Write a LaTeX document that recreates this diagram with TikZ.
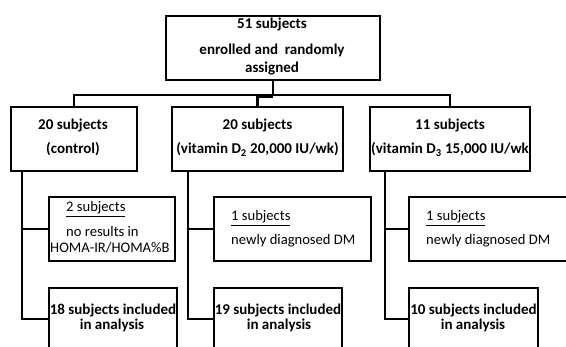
\documentclass[tikz,border=0pt]{standalone}
\usepackage{fontspec}
\setmainfont{Carlito}
\begin{document}
\begin{tikzpicture}[x=1pt,y=-1pt,
  box/.style={draw, rectangle, inner sep=0pt, line width=2.1pt},
  bt/.style={font=\fontsize{15}{15}\selectfont\bfseries, inner sep=0pt, anchor=base},
  rt/.style={font=\fontsize{14.6}{14.6}\selectfont, inner sep=0pt, anchor=base west},
  conn/.style={draw, line width=2.1pt}]
\useasboundingbox (0,0) rectangle (566,347);
\clip (0,0) rectangle (566,347);
% boxes
\node[box, minimum width=214pt, minimum height=64pt] (top) at (273,48) {};
\node[box, minimum width=126pt, minimum height=64pt] (L) at (74,139) {};
\node[box, minimum width=171pt, minimum height=64pt] (M) at (257.5,139) {};
\node[box, minimum width=160pt, minimum height=64pt] (R) at (450,139) {};
\node[box, minimum width=126pt, minimum height=64pt] (L2) at (112,229) {};
\node[box, minimum width=157pt, minimum height=64pt] (M2) at (292.5,229) {};
\node[box, minimum width=191pt, minimum height=64pt] (R2) at (504.5,229) {};
\node[box, minimum width=128pt, minimum height=62pt] (L3) at (113,319) {};
\node[box, minimum width=128pt, minimum height=62pt] (M3) at (278,319) {};
\node[box, minimum width=129pt, minimum height=62pt] (R3) at (473.5,319) {};
% connectors
\coordinate (j) at (273,95);
\draw[conn] (top.south) -- (j);
\draw[conn] (L.north) |- (j) -| (R.north);
\draw[conn] (M.north) -- (M.north |- j);
\draw[conn] ([yshift=-2pt]M.north |- j) -- ([yshift=-2pt]j);
\coordinate (ls) at ([xshift=12pt]L.south west);
\coordinate (ms) at ([xshift=17pt]M.south west);
\coordinate (rs) at ([xshift=16pt]R.south west);
\draw[conn] (ls) |- (L2.west);
\draw[conn] (ls) |- (L3.west);
\draw[conn] (ms) |- (M2.west);
\draw[conn] (ms) |- (M3.west);
\draw[conn] (rs) |- (R2.west);
\draw[conn] (rs) |- (R3.west);
% texts
\node[bt] (t1) at (272,29) {51 subjects};
\node[bt] (t2) at (272,55) {enrolled and\ \ randomly};
\node[bt] (t3) at (272,73) {assigned};
\node[bt] (l1) at (73,130) {20 subjects};
\node[bt] (l2) at (73,154) {(control)};
\node[bt] (m1) at (257.5,130) {20 subjects};
\node[bt] (m2) at (257.5,154) {(vitamin D\textsubscript{2} 20,000 IU/wk)};
\node[bt] (r1) at (450,130) {11 subjects};
\node[bt] (r2) at (450,154) {(vitamin D\textsubscript{3} 15,000 IU/wk};
\node[rt] (l21) at (66,212) {\underline{2 subjects}};
\node[rt] (l22) at (66,237) {no results in};
\node[rt] (l23) at (50,253) {HOMA-IR/HOMA\%B};
\node[rt] (m21) at (231,221) {\underline{1 subjects}};
\node[rt] (m22) at (231,245) {newly diagnosed DM};
\node[rt] (r21) at (426,221) {\underline{1 subjects}};
\node[rt] (r22) at (426,245) {newly diagnosed DM};
\node[bt] (l31) at (113,315) {18 subjects included};
\node[bt] (l32) at (112,330) {in analysis};
\node[bt] (m31) at (278,315) {19 subjects included};
\node[bt] (m32) at (279,330) {in analysis};
\node[bt] (r31) at (473.5,315) {10 subjects included};
\node[bt] (r32) at (473,330) {in analysis};
\end{tikzpicture}
\end{document}
